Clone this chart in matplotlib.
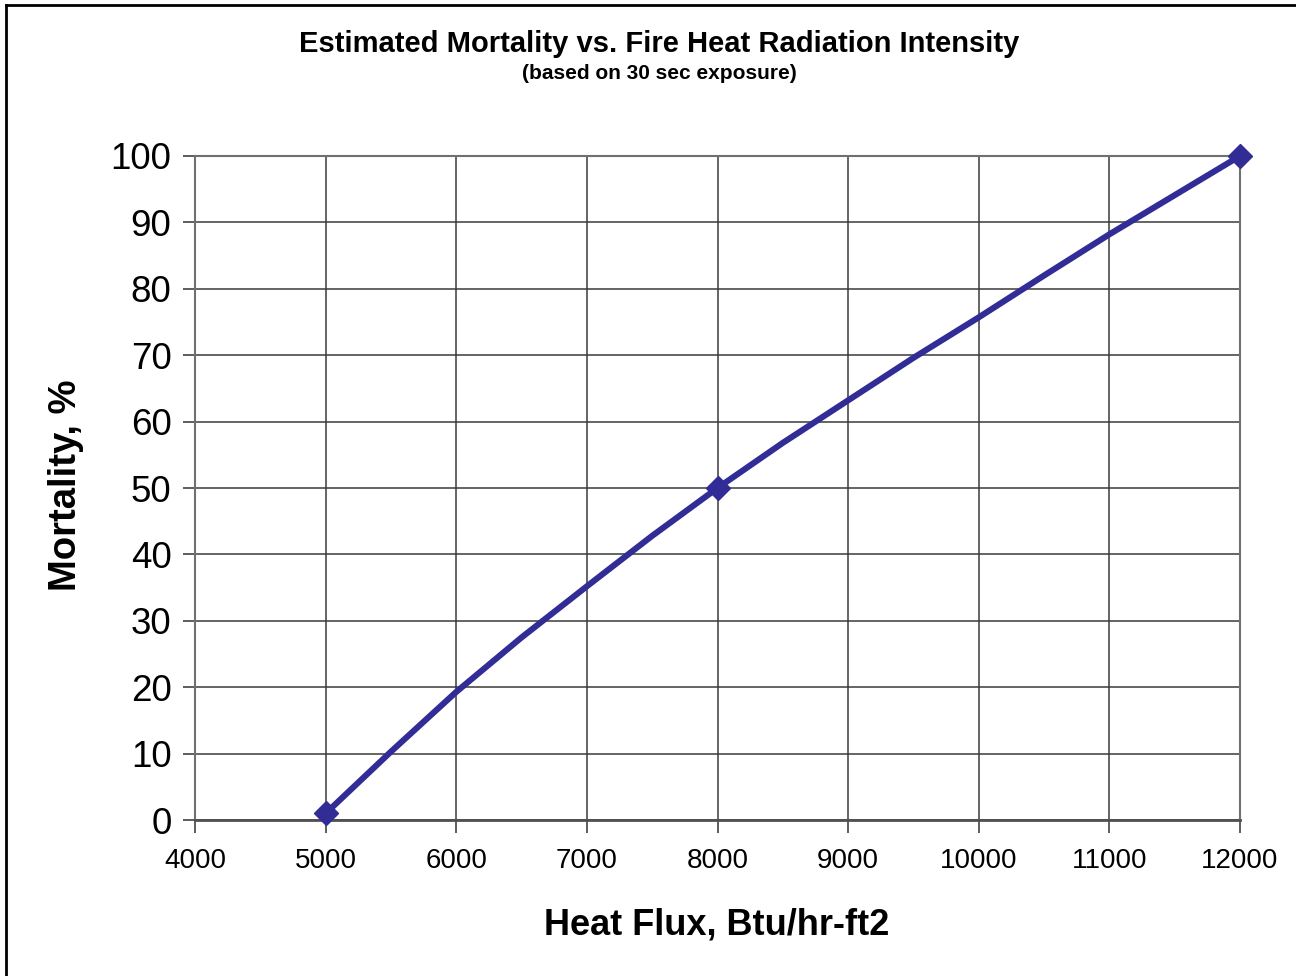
import numpy as np
import matplotlib.pyplot as plt
from matplotlib.lines import Line2D

plt.rcParams['font.family'] = ['Liberation Sans', 'DejaVu Sans']

# data points (markers)
flux = [5000, 8000, 12000]
mortality = [1, 50, 100]

# smoothed curve
curve_flux = [5000, 5500, 6000, 6500, 7000, 7500, 8000, 8500, 9000,
              9500, 10000, 10500, 11000, 11500, 12000]
curve_mort = [1, 10.3, 19.3, 27.5, 35.2, 42.8, 50, 56.8, 63.2,
              69.6, 75.7, 82, 88.2, 94.1, 100]

x_ticks = [4000, 5000, 6000, 7000, 8000, 9000, 10000, 11000, 12000]
y_ticks = [0, 10, 20, 30, 40, 50, 60, 70, 80, 90, 100]

line_col = '#322C96'
grid_col = '#3a3a3a'

fig = plt.figure(figsize=(12.96, 9.76), dpi=100)
ax = fig.add_axes([0.1505, 0.1598, 0.8063, 0.6804])

ax.plot(curve_flux, curve_mort, color=line_col, linewidth=4.4,
        solid_capstyle='round', zorder=3)
ax.plot(flux, mortality, linestyle='none', marker='D', markersize=12,
        color=line_col, zorder=4, clip_on=False)

ax.set_xlim(4000, 12000)
ax.set_ylim(0, 100)
ax.set_xticks(x_ticks)
ax.set_yticks(y_ticks)
ax.grid(True, color=grid_col, linewidth=1.1)
ax.set_axisbelow(True)

for s in ax.spines.values():
    s.set_color('#707070')
    s.set_linewidth(1.5)
ax.spines['bottom'].set_color('#505050')
ax.spines['bottom'].set_linewidth(2)

ax.tick_params(axis='x', direction='out', length=9, width=1.3, color='#505050',
               labelsize=20, pad=11)
ax.tick_params(axis='y', direction='out', length=9, width=1.3, color='#505050',
               labelsize=26.5, pad=8)

fig.text(0.5085, 0.955, 'Estimated Mortality vs. Fire Heat Radiation Intensity',
         ha='center', va='center', fontsize=21, fontweight='bold')
fig.text(0.5085, 0.925, '(based on 30 sec exposure)',
         ha='center', va='center', fontsize=15, fontweight='bold')

fig.text(0.553, 0.052, 'Heat Flux, Btu/hr-ft2', ha='center', va='center',
         fontsize=26, fontweight='bold')
fig.text(0.051, 0.503, 'Mortality, %', ha='center', va='center',
         fontsize=27.5, fontweight='bold', rotation=90)

# figure frame (left and top edges visible)
fig.add_artist(Line2D([0.0047, 0.0047], [0, 0.995], transform=fig.transFigure,
                      color='black', linewidth=2))
fig.add_artist(Line2D([0.0047, 1.0], [0.995, 0.995], transform=fig.transFigure,
                      color='black', linewidth=2))

fig.savefig('out.png', dpi=100)
